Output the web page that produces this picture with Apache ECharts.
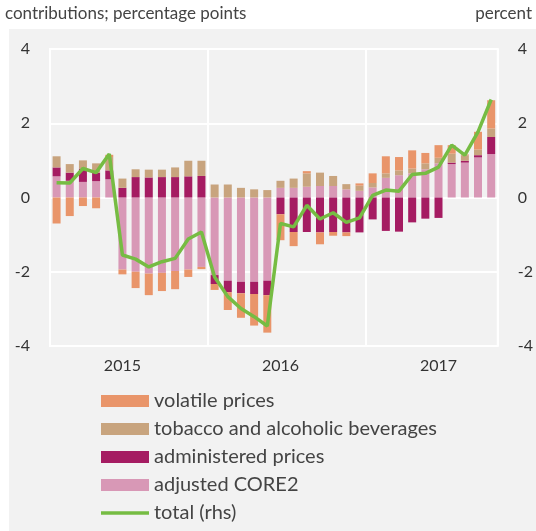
<!DOCTYPE html>
<html>
<head>
<meta charset="utf-8">
<script src="https://cdn.jsdelivr.net/npm/echarts@6/dist/echarts.min.js"></script>
<style>
  html, body { margin: 0; padding: 0; background: #fff; }
  #box { width: 536px; height: 531px; }
</style>
</head>
<body>
<div id="box"></div>
<script>
// months Jan 2015 .. Oct 2017
const months = []
for (let y = 2015; y <= 2017; y++) {
  for (let m = 1; m <= 12; m++) {
    if (y === 2017 && m > 10) break
    months.push(y + '-' + (m < 10 ? '0' + m : m))
  }
}
const yearLabels = { 5: '2015', 17: '2016', 29: '2017' }

// contributions, percentage points
const core2 = [0.57, 0.45, 0.42, 0.44, 0.49, -1.94, -2.0, -2.05, -2.03, -1.98, -1.94, -1.87,
  -2.09, -2.24, -2.27, -2.27, -2.24, 0.26, 0.26, 0.29, 0.31, 0.31, 0.22, 0.18,
  0.27, 0.53, 0.6, 0.65, 0.76, 0.92, 0.9, 0.94, 1.08, 1.17]
const administered = [0.24, 0.22, 0.36, 0.23, 0.24, 0.26, 0.55, 0.54, 0.55, 0.55, 0.57, 0.58,
  -0.24, -0.31, -0.31, -0.33, -0.39, -0.45, -0.93, -0.93, -0.94, -0.93, -0.94, -0.94,
  -0.59, -0.90, -0.92, -0.67, -0.57, -0.55, 0.04, 0.05, 0.06, 0.46]
const tobacco = [0.30, 0.23, 0.22, 0.25, 0.36, 0.25, 0.21, 0.21, 0.20, 0.26, 0.42, 0.41,
  0.35, 0.35, 0.26, 0.22, 0.20, 0.19, 0.25, 0.36, 0.36, 0.27, 0.14, 0.14,
  0.12, 0.12, 0.13, 0.13, 0.16, 0.15, 0.24, 0.15, 0.15, 0.23]
const volatile = [-0.70, -0.50, -0.23, -0.29, 0.06, -0.13, -0.44, -0.58, -0.49, -0.49, -0.20, -0.06,
  -0.16, -0.48, -0.66, -0.85, -1.01, -0.70, -0.38, 0.06, -0.32, -0.10, -0.10, 0.06,
  0.26, 0.46, 0.36, 0.49, 0.28, 0.34, 0.23, 0.02, 0.48, 0.76]
// percent
const total = [0.40, 0.39, 0.78, 0.67, 1.17, -1.55, -1.66, -1.87, -1.73, -1.64, -1.12, -0.93,
  -2.14, -2.67, -2.99, -3.21, -3.46, -0.70, -0.79, -0.21, -0.58, -0.41, -0.67, -0.55,
  0.06, 0.20, 0.17, 0.62, 0.65, 0.82, 1.41, 1.14, 1.77, 2.64]

const font = 'Lato'
const txt = '#333'

const myEcharts = echarts.init(document.getElementById('box'))

const barItem = (name, data, color) => ({
  name: name,
  type: 'bar',
  stack: 'c',
  data: data,
  barWidth: 8,
  itemStyle: { color: color },
  z: 2
})

const options = {
  backgroundColor: '#fff',
  animation: false,
  textStyle: { fontFamily: font },
  graphic: [
    { type: 'rect', left: 9, top: 29, z: -10, shape: { width: 527, height: 502 }, style: { fill: '#f2f2f2' } },
    { type: 'text', left: 5, top: 5, style: { text: 'contributions; percentage points', fontFamily: font, fontSize: 17, fill: '#444' } },
    { type: 'text', right: 4, top: 5, style: { text: 'percent', fontFamily: font, fontSize: 17, fill: '#444' } }
  ],
  grid: {
    left: 50,
    right: 38,
    top: 49,
    bottom: 185,
    show: true,
    borderColor: '#fff',
    borderWidth: 2,
    backgroundColor: 'transparent'
  },
  legend: {
    orient: 'vertical',
    left: 101,
    top: 391,
    padding: 0,
    itemWidth: 48,
    itemHeight: 12,
    itemGap: 8,
    data: [
      { name: 'volatile prices', icon: 'rect' },
      { name: 'tobacco and alcoholic beverages', icon: 'rect' },
      { name: 'administered prices', icon: 'rect' },
      { name: 'adjusted CORE2', icon: 'rect' },
      { name: 'total (rhs)', icon: 'path://M0,0H48V3.5H0Z' }
    ],
    textStyle: { fontFamily: font, fontSize: 20, color: '#444' }
  },
  xAxis: {
    type: 'category',
    data: months,
    axisLine: { show: false },
    axisTick: { show: false },
    axisLabel: {
      interval: (i) => yearLabels[i] !== undefined,
      formatter: (v, i) => yearLabels[i] || '',
      fontFamily: font,
      fontSize: 16,
      color: txt,
      margin: 12
    },
    splitLine: {
      show: true,
      interval: (i) => i % 12 === 0,
      lineStyle: { color: '#fff', width: 2 }
    }
  },
  yAxis: [
    {
      type: 'value',
      min: -4,
      max: 4,
      interval: 2,
      axisLine: { show: false },
      axisTick: { show: false },
      axisLabel: { fontFamily: font, fontSize: 16, color: txt, margin: 20 },
      splitLine: { lineStyle: { color: '#fff', width: 2 } }
    },
    {
      type: 'value',
      min: -4,
      max: 4,
      interval: 2,
      axisLine: { show: false },
      axisTick: { show: false },
      axisLabel: { fontFamily: font, fontSize: 16, color: txt, margin: 20 },
      splitLine: { show: false }
    }
  ],
  series: [
    barItem('adjusted CORE2', core2, '#d898b6'),
    barItem('administered prices', administered, '#a51c62'),
    barItem('tobacco and alcoholic beverages', tobacco, '#c8a47e'),
    barItem('volatile prices', volatile, '#e9956a'),
    {
      name: 'total (rhs)',
      type: 'line',
      yAxisIndex: 1,
      data: total,
      symbol: 'none',
      showSymbol: false,
      lineStyle: { color: '#76bc43', width: 3.5 },
      itemStyle: { color: '#76bc43' },
      z: 5
    }
  ]
}

myEcharts.setOption(options)
</script>
</body>
</html>
